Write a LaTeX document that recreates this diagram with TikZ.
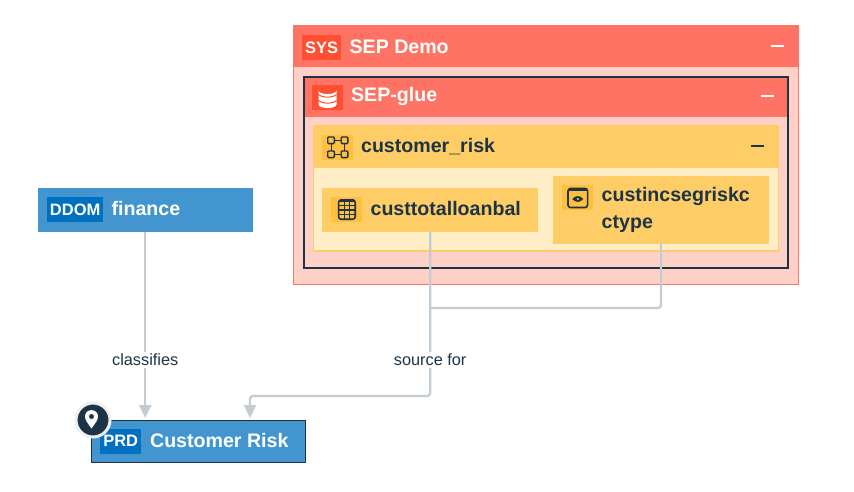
\documentclass[tikz,border=0pt]{standalone}
\usepackage{xcolor}
\usepackage{fontspec}
\setmainfont{Liberation Sans}
\usepackage{tikz}
\usetikzlibrary{arrows.meta,positioning,calc}
\definecolor{redhead}{HTML}{FF7364}
\definecolor{redbody}{HTML}{FFD0C8}
\definecolor{redbadge}{HTML}{FF4F33}
\definecolor{yelhead}{HTML}{FFCD66}
\definecolor{yelbody}{HTML}{FFEDC8}
\definecolor{yelbadge}{HTML}{FFBF3F}
\definecolor{bluehead}{HTML}{4295CF}
\definecolor{bluebadge}{HTML}{0070C0}
\definecolor{ink}{HTML}{1C3445}
\definecolor{conn}{HTML}{C2CCD2}

\begin{document}
\begin{tikzpicture}[x=1pt,y=-1pt,
  box/.style={anchor=north west,inner sep=0pt,outer sep=0pt},
  redbox/.style={box,fill=redhead},
  yelbox/.style={box,fill=yelhead},
  bluebox/.style={box,fill=bluehead,line width=0.8pt},
  badge/.style={anchor=west,inner sep=0pt,minimum height=25pt,text=white,font=\fontsize{16.5}{18}\selectfont\bfseries},
  iconbg/.style={anchor=west,inner sep=0pt,minimum width=31pt,minimum height=25pt},
  title/.style={anchor=west,inner sep=0pt,yshift=0.8pt,text=white,font=\fontsize{19.6}{22}\selectfont\bfseries},
  dtitle/.style={anchor=west,inner sep=0pt,yshift=0.8pt,text=ink,align=left,font=\fontsize{19.6}{25}\selectfont\bfseries},
  minus/.style={line width=2pt},
  ico/.style={draw=ink,line width=1.6pt},
  arr/.style={conn,line width=2.2pt,rounded corners=3pt},
  arrtip/.style={arr,-{Triangle[length=13pt,width=12pt]}},
  lab/.style={fill=white,text=ink,inner sep=2pt,font=\fontsize{16.3}{18}\selectfont}]
  \useasboundingbox (0,0) rectangle (854,492);

  % system
  \node[box,fill=redbody,draw=redhead,line width=1pt,minimum width=505pt,minimum height=258.5pt] (sysbox) at (293.5,26) {};
  \node[redbox,minimum width=505pt,minimum height=41.5pt] (syshead) at (293.5,26) {};
  \node[badge,fill=redbadge,minimum width=39pt] (sysbadge) at (302,47.5) {SYS};
  \node[title,right=8pt of sysbadge] (systitle) {SEP Demo};
  \draw[minus,white] (770.7,46) -- (783.7,46);

  % glue
  \node[box,draw=ink,line width=2pt,minimum width=484.5pt,minimum height=191pt] (gluebox) at (303.5,76.7) {};
  \node[redbox,minimum width=482.5pt,minimum height=39.5pt] (gluehead) at (304.5,77.7) {};
  \node[iconbg,fill=redbadge] (glueicon) at (312,97.5) {};
  \node[title,right=7.5pt of glueicon] (gluetitle) {SEP-glue};
  \draw[minus,white] (760.5,96.3) -- (773.5,96.3);
  \fill[white] (318.5,90.5) -- (318.5,104.5) arc[start angle=180,end angle=0,x radius=9pt,y radius=-3.6pt] -- (336.5,90.5) arc[start angle=0,end angle=180,x radius=9pt,y radius=-3.6pt] -- cycle;
  \draw[redbadge,line width=1pt] (318.5,94.5) .. controls (322,98) and (333,98) .. (336.5,94.5);
  \draw[redbadge,line width=1pt] (318.5,100.5) .. controls (322,104) and (333,104) .. (336.5,100.5);

  % schema
  \node[box,fill=yelbody,draw=yelhead,line width=1.6pt,minimum width=465pt,minimum height=125pt] (schemabox) at (313.4,126) {};
  \node[yelbox,minimum width=466pt,minimum height=42pt] (schemahead) at (312.7,126) {};
  \node[iconbg,fill=yelbadge] (schemaicon) at (322,147.5) {};
  \node[dtitle,right=7.5pt of schemaicon] (schematitle) {customer\_risk};
  \draw[minus,ink] (751,146) -- (764,146);
  \foreach \xx in {331,344.5}
    \foreach \yy in {140.3,154.3}
      \draw[ico,line width=1.4pt,rounded corners=1pt] (\xx-3.3,\yy-3.3) rectangle (\xx+3.3,\yy+3.3);
  \draw[ink,line width=1pt] (334.3,140.3) -- (341.2,140.3) (334.3,154.3) -- (341.2,154.3)
    (331,143.6) -- (331,151) (344.5,143.6) -- (344.5,151);

  % table
  \node[yelbox,minimum width=216pt,minimum height=43.5pt] (custtotal) at (322.2,188.2) {};
  \node[iconbg,fill=yelbadge] (tableicon) at (331,209.5) {};
  \node[dtitle,right=8pt of tableicon] (tabletitle) {custtotalloanbal};
  \draw[ico,rounded corners=2.5pt] (338.6,200) rectangle (355.2,219.2);
  \draw[ink,line width=2.4pt] (339.5,200.5) -- (354.3,200.5);
  \foreach \xx in {344.2,349.7}
    \draw[ink,line width=1.3pt] (\xx,200.5) -- (\xx,219);
  \foreach \yy in {205.5,210,214.5}
    \draw[ink,line width=1.3pt] (338.6,\yy) -- (355.2,\yy);

  % view
  \node[yelbox,minimum width=216pt,minimum height=67.7pt] (custinc) at (553,176) {};
  \node[iconbg,fill=yelbadge] (viewicon) at (562,197.5) {};
  \node[dtitle,anchor=north west] (viewtitle) at (601.5,188) {custincsegriskc\\[2pt]ctype};
  \draw[ico,rounded corners=2.5pt] (568,188.5) rectangle (587.6,207.5);
  \draw[ink,line width=3pt] (569,189.8) -- (586.6,189.8);
  \draw[ink,fill=ink,line width=0.9pt] (573,199) .. controls (575.5,195.8) and (580,195.8) .. (582.6,199) .. controls (580,202.2) and (575.5,202.2) .. cycle;
  \fill[yelbadge] (577.8,199) circle (1.3pt);

  % domain
  \node[bluebox,minimum width=215pt,minimum height=44pt] (finance) at (37.7,188) {};
  \node[badge,fill=bluebadge,minimum width=56pt] (ddombadge) at (47,209.5) {DDOM};
  \node[title,right=8pt of ddombadge] (financetitle) {finance};

  % product
  \node[bluebox,draw=ink,minimum width=214pt,minimum height=42pt] (product) at (91.8,420.2) {};
  \node[badge,fill=bluebadge,minimum width=41pt] (prdbadge) at (100,441) {PRD};
  \node[title,right=8.5pt of prdbadge] (producttitle) {Customer Risk};
  \node[circle,fill=ink,draw=white!92!ink,line width=3pt,minimum size=34pt,inner sep=0pt] (pinmark) at (93,420) {};
  \fill[white,even odd rule] (91.5,428.5) .. controls (87.5,423) and (85,420) .. (85,416.5)
    .. controls (85,408) and (98,408) .. (98,416.5)
    .. controls (98,420) and (95.5,423) .. (91.5,428.5) -- cycle
    (91.5,416.5) circle (2.6pt);

  % connectors
  \coordinate (prdleft) at (145.2,418);
  \coordinate (prdright) at (250,418);
  \coordinate (joinpt) at (430,308);
  \draw[arrtip] (finance.south) -- (prdleft);
  \draw[arr] (custinc.south) |- (joinpt);
  \draw[arrtip] (custtotal.south) -- (430.2,396) -- (250,396) -- (prdright);
  \node[lab] (classlab) at (145.2,360) {classifies};
  \node[lab] (sourcelab) at (430.2,360) {source for};
\end{tikzpicture}
\end{document}
